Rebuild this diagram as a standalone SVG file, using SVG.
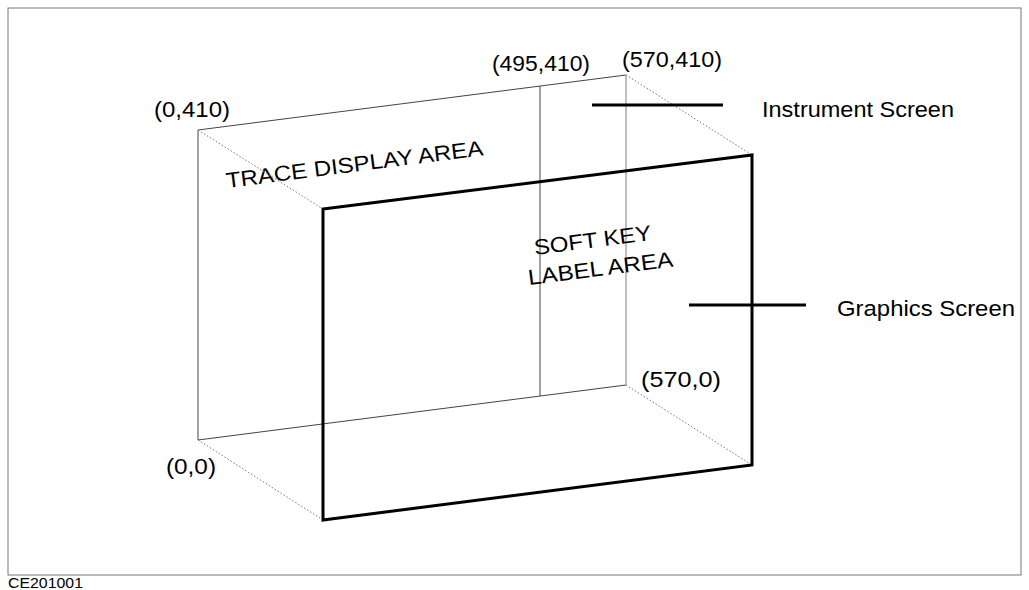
<svg xmlns="http://www.w3.org/2000/svg" width="1029" height="590" viewBox="0 0 1029 590">
<style>
  text { font-family: "Liberation Sans", Arial, sans-serif; fill: #000; }
  .lbl { font-size: 21.5px; }
  .thin { stroke: #444; stroke-width: 1; fill: none; }
  .light { stroke: #aaa; stroke-width: 1.5; fill: none; }
  .dot { stroke: #777; stroke-width: 1; stroke-dasharray: 1.5 2; fill: none; }
  .thick { stroke: #000; stroke-width: 3; fill: none; stroke-linejoin: miter; }
</style>
<rect x="0" y="0" width="1029" height="590" fill="#fff"/>
<rect x="8" y="8" width="1013" height="567" fill="none" stroke="#777" stroke-width="1"/>
<text x="8" y="588" font-size="15" textLength="75" lengthAdjust="spacingAndGlyphs">CE201001</text>

<g id="instrument-screen">
  <line class="thin" x1="198" y1="130" x2="626" y2="75"/>
  <line class="thin" x1="198" y1="130" x2="198" y2="440"/>
  <line class="thin" x1="198" y1="440" x2="626" y2="385"/>
  <line class="light" x1="626" y1="75" x2="626" y2="385"/>
  <line class="thin" x1="540" y1="86" x2="540" y2="396"/>
  <text class="lbl" transform="rotate(-7.3 227 188)" x="227" y="188" textLength="259" lengthAdjust="spacingAndGlyphs">TRACE DISPLAY AREA</text>
  <text class="lbl" transform="rotate(-7.3 535 255)" x="535" y="255" textLength="118" lengthAdjust="spacingAndGlyphs">SOFT KEY</text>
  <text class="lbl" transform="rotate(-7.3 529 285)" x="529" y="285" textLength="146" lengthAdjust="spacingAndGlyphs">LABEL AREA</text>
</g>

<g id="connectors">
  <line class="dot" x1="198" y1="130" x2="323" y2="209"/>
  <line class="dot" x1="626" y1="75" x2="752" y2="155"/>
  <line class="dot" x1="198" y1="440" x2="323" y2="520"/>
  <line class="dot" x1="626" y1="385" x2="752" y2="465"/>
  <line stroke="#000" stroke-width="3" x1="592" y1="105" x2="723" y2="105"/>
  <line stroke="#000" stroke-width="3" x1="689" y1="305" x2="806" y2="305"/>
</g>

<g id="graphics-screen">
  <polygon class="thick" points="323,209 752,155 752,465 323,520"/>
</g>

<g id="labels">
  <text class="lbl" x="762" y="117" textLength="192" lengthAdjust="spacingAndGlyphs">Instrument Screen</text>
  <text class="lbl" x="837" y="316" textLength="178" lengthAdjust="spacingAndGlyphs">Graphics Screen</text>
  <text class="lbl" x="154" y="117" textLength="76" lengthAdjust="spacingAndGlyphs">(0,410)</text>
  <text class="lbl" x="492" y="71" textLength="98" lengthAdjust="spacingAndGlyphs">(495,410)</text>
  <text class="lbl" x="622" y="67" textLength="100" lengthAdjust="spacingAndGlyphs">(570,410)</text>
  <text class="lbl" x="166" y="474" textLength="50" lengthAdjust="spacingAndGlyphs">(0,0)</text>
  <text class="lbl" x="641" y="387" textLength="80" lengthAdjust="spacingAndGlyphs">(570,0)</text>
</g>
</svg>
